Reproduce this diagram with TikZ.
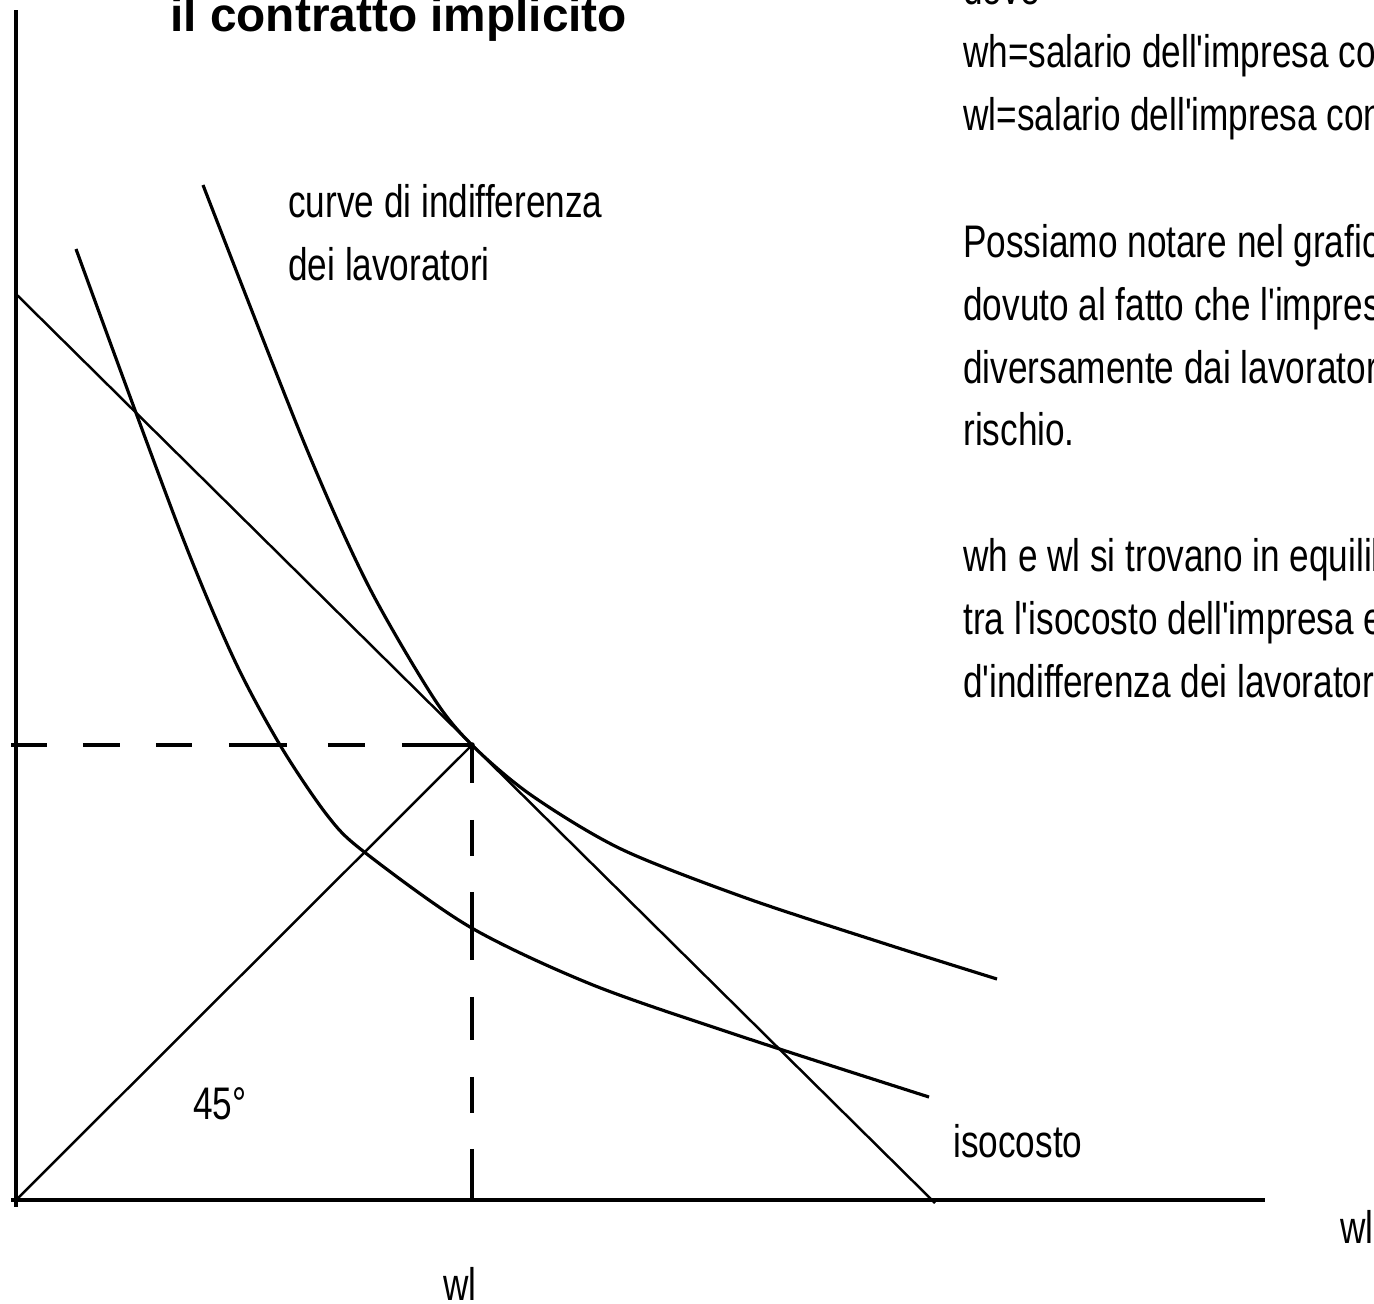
\documentclass[tikz,border=0pt]{standalone}
\usepackage{fontspec}
\setmainfont{Liberation Sans}
\newfontfamily\narrowfont[FakeStretch=0.77]{Liberation Sans}
\tikzset{
  lbl/.style={font=\narrowfont\fontsize{26}{35.7}\selectfont, inner sep=0pt, anchor=base west},
  axis/.style={line width=2.5pt},
  guide/.style={line width=2pt},
  thinline/.style={line width=1.4pt},
  indiff/.style={line width=1.8pt, line join=round},
}
\begin{document}
\begin{tikzpicture}[x=0.02cm, y=-0.02cm]
	\useasboundingbox (0,0) rectangle (1374,1303);
	\clip (0,0) rectangle (1374,1303);
	% Title
	\node (title) [anchor=base west, inner sep=0pt, font=\bfseries\fontsize{27.2}{30}\selectfont] at (170,31) {il contratto implicito};
	% Draw axes
	\coordinate (ytop) at (16,10);
	\coordinate (ybot) at (16,1207);
	\coordinate (xstart) at (11,1200);
	\coordinate (xend) at (1265,1200);
	\coordinate (O) at (16,1200);
	\draw [axis] (ytop) -- (ybot);
	\draw [axis] (xstart) -- (xend);
	% Tangency point and dashed guides
	\coordinate (T) at (472,745);
	\coordinate (hstart) at (11,745);
	\coordinate (vend) at (472,1200);
	\draw [guide, dash pattern=on 0.72cm off 0.72cm on 0.74cm off 0.72cm on 0.72cm off 0.74cm on 1.16cm off 0.82cm on 0.74cm off 0.74cm on 1.4cm] (hstart) -- (T);
	\draw [guide, dash pattern=on 0.76cm off 0.74cm on 0.72cm off 0.72cm on 1.36cm off 0.74cm on 0.86cm off 0.74cm on 0.72cm off 0.72cm on 1.02cm] (T) -- (vend);
	% 45 degree line and isocost line
	\draw [thinline] (O) -- (T);
	\coordinate (isoA) at (16,294);
	\coordinate (isoB) at (935,1203);
	\draw [thinline] (isoA) -- (isoB);
	% Two indifference curves, the outer one tangent at T
	\draw [indiff] plot [smooth] coordinates {(203,185) (303,440) (367,583) (433,697) (472,745) (531,795) (621,849) (746,898) (889,945) (997,979)};
	\draw [indiff] plot [smooth] coordinates {(76,249) (177,523) (233,657) (280,745) (327,815) (363,851) (470,927) (593,985) (743,1037) (929,1097)};
	\fill (T) circle (1.6pt);
	% Labels
	\node (indiffA) [lbl] at (288,217) {curve di indifferenza};
	\node (indiffB) [lbl] at (288,280) {dei lavoratori};
	\node (iso) [lbl] at (953,1157) {isocosto};
	\node (angle) [lbl] at (193,1119) {45°};
	\node (wlT) [lbl] at (443,1300) {wl};
	\node (wlx) [lbl] at (1340,1243) {wl};
	% Notes on the right
	\foreach \y/\txt in {4/dove, 67/{wh=salario dell'impresa con domanda alta}, 130/{wl=salario dell'impresa con domanda bassa},
		257/{Possiamo notare nel grafico che}, 320/{dovuto al fatto che l'impresa}, 383/{diversamente dai lavoratori}, 445/{rischio.},
		571/{wh e wl si trovano in equilibrio}, 634/{tra l'isocosto dell'impresa e la curva}, 697/{d'indifferenza dei lavoratori}}
	\node (note\y) [lbl] at (963,\y) {\txt};
\end{tikzpicture}
\end{document}
